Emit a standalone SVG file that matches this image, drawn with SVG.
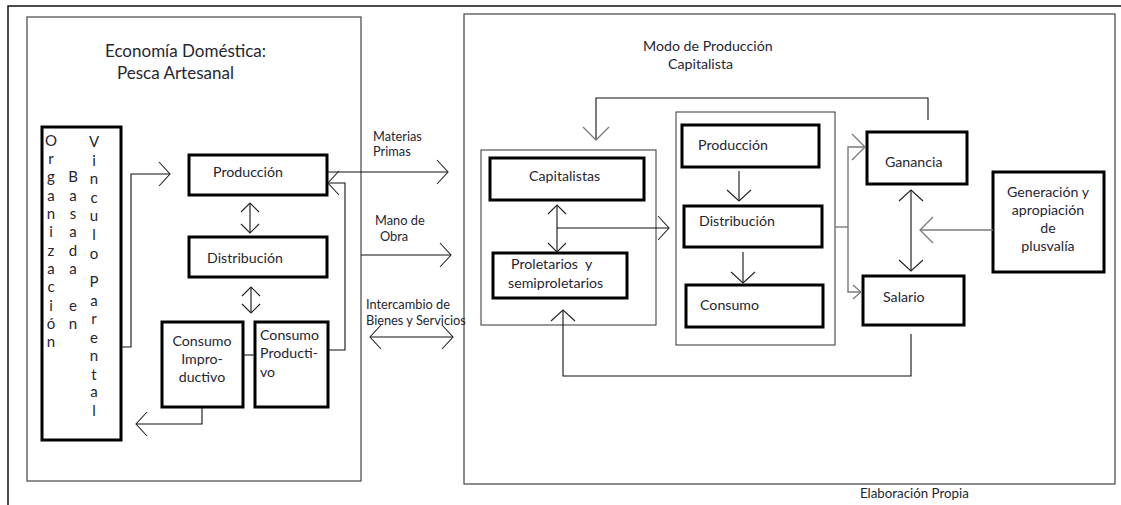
<svg xmlns="http://www.w3.org/2000/svg" width="1121" height="505" viewBox="0 0 1121 505">
<style>
  .t{font-family:Lato,"Liberation Sans",sans-serif;fill:#262630;}
  .b{font-size:14.2px;}
  .s{font-size:12.8px;}
  .ttl{font-size:17px;}
  .box{fill:#fff;stroke:#000;stroke-width:3;}
  .pan{fill:#fff;stroke:#444;stroke-width:1.2;}
  .thin{fill:#fff;stroke:#333;stroke-width:1;}
  .c{fill:none;stroke:#111;stroke-width:1.1;}
  .g{fill:none;stroke:#7a7a7a;stroke-width:1.4;}
  .v{font-size:15px;text-anchor:middle;}
</style>
<defs>
  <marker id="ah" markerUnits="userSpaceOnUse" markerWidth="40" markerHeight="40" refX="0" refY="0" orient="auto-start-reverse" overflow="visible">
    <path d="M-11,-12 L0,0 L-11,12" fill="none" stroke="#222" stroke-width="1.1"/>
  </marker>
  <marker id="ahs" markerUnits="userSpaceOnUse" markerWidth="30" markerHeight="30" refX="0" refY="0" orient="auto-start-reverse" overflow="visible">
    <path d="M-9,-9 L0,0 L-9,9" fill="none" stroke="#222" stroke-width="1.1"/>
  </marker>
  <marker id="ahg" markerUnits="userSpaceOnUse" markerWidth="40" markerHeight="40" refX="0" refY="0" orient="auto-start-reverse" overflow="visible">
    <path d="M-13,-13 L0,0 L-13,13" fill="none" stroke="#7a7a7a" stroke-width="1.3"/>
  </marker>
  <marker id="ahgs" markerUnits="userSpaceOnUse" markerWidth="30" markerHeight="30" refX="0" refY="0" orient="auto-start-reverse" overflow="visible">
    <path d="M-8,-7 L0,0 L-8,7" fill="none" stroke="#7a7a7a" stroke-width="1.3"/>
  </marker>
</defs>
<rect width="1121" height="505" fill="#fff"/>
<!-- outer frame -->
<path d="M8,505 V6 H1121" fill="none" stroke="#111" stroke-width="1.5"/>

<!-- panels -->
<g id="panel-left">
  <rect class="pan" x="27" y="17" width="334" height="464"/>
  <text class="t ttl" x="105" y="57">Economía Doméstica:</text>
  <text class="t ttl" x="117" y="79">Pesca Artesanal</text>
</g>
<g id="panel-right">
  <rect class="pan" x="464" y="14" width="651" height="470"/>
  <text class="t b" x="643" y="51">Modo de Producción</text>
  <text class="t b" x="668" y="69">Capitalista</text>
</g>

<!-- left nodes -->
<g id="organizacion">
  <rect class="box" x="42" y="127" width="79" height="313"/>
  <text class="t v"><tspan x="51" y="146">O</tspan><tspan x="51" y="164">r</tspan><tspan x="51" y="182">g</tspan><tspan x="51" y="201">a</tspan><tspan x="51" y="219">n</tspan><tspan x="51" y="237">i</tspan><tspan x="51" y="256">z</tspan><tspan x="51" y="274">a</tspan><tspan x="51" y="292">c</tspan><tspan x="51" y="311">i</tspan><tspan x="51" y="329">ó</tspan><tspan x="51" y="347">n</tspan></text>
  <text class="t v"><tspan x="73" y="182">B</tspan><tspan x="73" y="201">a</tspan><tspan x="73" y="219">s</tspan><tspan x="73" y="237">a</tspan><tspan x="73" y="256">d</tspan><tspan x="73" y="274">a</tspan><tspan x="73" y="311">e</tspan><tspan x="73" y="329">n</tspan></text>
  <text class="t v"><tspan x="94" y="147">V</tspan><tspan x="94" y="166">i</tspan><tspan x="94" y="184">n</tspan><tspan x="94" y="203">c</tspan><tspan x="94" y="221">u</tspan><tspan x="94" y="240">l</tspan><tspan x="94" y="259">o</tspan><tspan x="94" y="287">P</tspan><tspan x="94" y="306">a</tspan><tspan x="94" y="324">r</tspan><tspan x="94" y="343">e</tspan><tspan x="94" y="361">n</tspan><tspan x="94" y="380">t</tspan><tspan x="94" y="397">a</tspan><tspan x="94" y="416">l</tspan></text>
</g>
<g id="produccion-l">
  <rect class="box" x="189" y="155" width="138" height="40"/>
  <text class="t b" x="213" y="177">Producción</text>
</g>
<g id="distribucion-l">
  <rect class="box" x="189" y="237" width="138" height="40"/>
  <text class="t b" x="207" y="263">Distribución</text>
</g>
<g id="consumo-improductivo">
  <rect class="box" x="162" y="322" width="81" height="85"/>
  <text class="t b" text-anchor="middle"><tspan x="202" y="346">Consumo</tspan><tspan x="202" y="364">Impro-</tspan><tspan x="202" y="382">ductivo</tspan></text>
</g>
<g id="consumo-productivo">
  <rect class="box" x="255" y="322" width="73" height="85"/>
  <text class="t b"><tspan x="260" y="340">Consumo</tspan><tspan x="260" y="358">Producti-</tspan><tspan x="260" y="377">vo</tspan></text>
</g>

<!-- middle labels -->
<g id="labels-mid">
  <text class="t s" x="373" y="141">Materias</text>
  <text class="t s" x="373" y="156">Primas</text>
  <text class="t s" x="375" y="225">Mano de</text>
  <text class="t s" x="380" y="241">Obra</text>
  <text class="t s" x="366" y="309">Intercambio de</text>
  <text class="t s" x="366" y="325">Bienes y Servicios</text>
</g>

<!-- right nodes -->
<g id="grupo-clases">
  <rect class="thin" x="481" y="150" width="175" height="175"/>
</g>
<g id="capitalistas">
  <rect class="box" x="490" y="158" width="154" height="42"/>
  <text class="t b" x="529" y="181">Capitalistas</text>
</g>
<g id="proletarios">
  <rect class="box" x="493" y="253" width="134" height="45"/>
  <text class="t b" x="511" y="269" style="white-space:pre">Proletarios  y</text>
  <text class="t b" x="508" y="288">semiproletarios</text>
</g>
<g id="grupo-proceso">
  <rect class="thin" x="676" y="112" width="159" height="233"/>
</g>
<g id="produccion-r">
  <rect class="box" x="682" y="125" width="137" height="42"/>
  <text class="t b" x="698" y="150">Producción</text>
</g>
<g id="distribucion-r">
  <rect class="box" x="684" y="206" width="138" height="41"/>
  <text class="t b" x="699" y="226">Distribución</text>
</g>
<g id="consumo-r">
  <rect class="box" x="686" y="285" width="137" height="42"/>
  <text class="t b" x="700" y="310">Consumo</text>
</g>
<g id="ganancia">
  <rect class="box" x="867" y="132" width="100" height="52"/>
  <text class="t b" x="885" y="167">Ganancia</text>
</g>
<g id="salario">
  <rect class="box" x="863" y="276" width="101" height="49"/>
  <text class="t b" x="883" y="302">Salario</text>
</g>
<g id="plusvalia">
  <rect class="box" x="993" y="172" width="111" height="100"/>
  <text class="t b" text-anchor="middle"><tspan x="1048" y="197">Generación y</tspan><tspan x="1048" y="215">apropiación</tspan><tspan x="1048" y="233">de</tspan><tspan x="1048" y="251">plusvalía</tspan></text>
</g>

<text class="t" font-size="13.3" x="860" y="498">Elaboración Propia</text>

<!-- connectors -->
<g id="connectors">
  <polyline class="c" points="121,347 131,347 131,174 170,174" marker-end="url(#ah)"/>
  <line class="c" x1="250" y1="203" x2="250" y2="233" marker-start="url(#ahs)" marker-end="url(#ahs)"/>
  <line class="c" x1="251" y1="287" x2="251" y2="313" marker-start="url(#ahs)" marker-end="url(#ahs)"/>
  <line class="c" x1="243" y1="355" x2="255" y2="355"/>
  <polyline class="c" points="328,350 345,350 345,183 328,183" marker-end="url(#ah)"/>
  <polyline class="c" points="202,407 202,424 136,424" marker-end="url(#ah)"/>
  <line class="c" x1="327" y1="172" x2="448" y2="172" marker-end="url(#ah)"/>
  <line class="c" x1="361" y1="255" x2="451" y2="255" marker-end="url(#ah)"/>
  <line class="c" x1="370" y1="337" x2="453" y2="337" marker-start="url(#ah)" marker-end="url(#ah)"/>

  <line class="c" x1="557" y1="205" x2="557" y2="252" marker-start="url(#ahs)" marker-end="url(#ahs)"/>
  <line class="c" x1="557" y1="228" x2="669" y2="228" marker-end="url(#ah)"/>
  <line class="c" x1="739" y1="171" x2="739" y2="201" marker-end="url(#ah)"/>
  <line class="c" x1="743" y1="252" x2="743" y2="283" marker-end="url(#ah)"/>
  <line class="g" x1="835" y1="227" x2="848" y2="227"/>
  <polyline class="g" points="865,147 848,147 848,292 861,292" marker-start="url(#ahg)" marker-end="url(#ahgs)"/>
  <line class="c" x1="911" y1="190" x2="911" y2="271" marker-start="url(#ah)" marker-end="url(#ah)"/>
  <line class="g" x1="993" y1="230" x2="920" y2="230" marker-end="url(#ahg)"/>
  <polyline class="c" points="911,334 911,376 563,376 563,310" marker-end="url(#ah)"/>
  <polyline class="c" points="928,120 928,98 596,98 596,140" marker-end="url(#ahg)"/>
</g>
</svg>
